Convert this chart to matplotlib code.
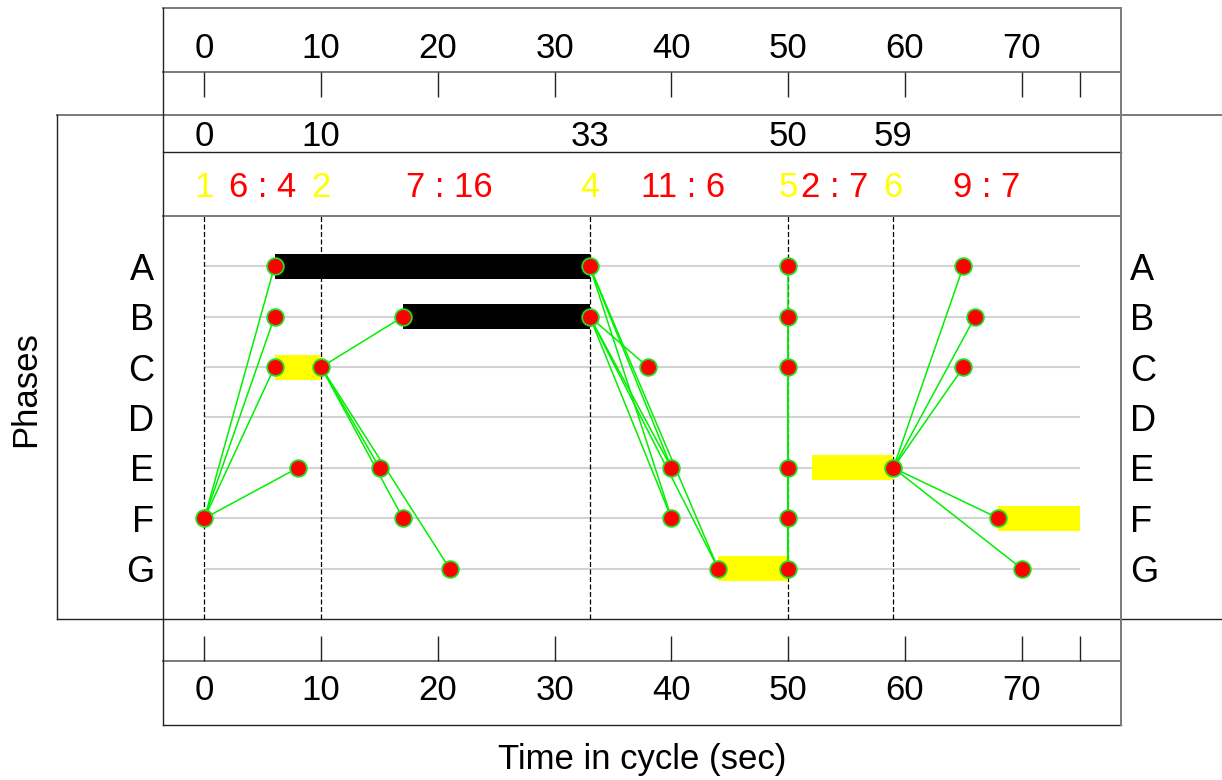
import matplotlib
matplotlib.use('Agg')
import matplotlib.pyplot as plt
from matplotlib.transforms import blended_transform_factory, ScaledTranslation

plt.rcParams['font.family'] = ['Liberation Sans', 'DejaVu Sans']

# ---- data ----
phases = ['A', 'B', 'C', 'D', 'E', 'F', 'G']
cycle_ticks = [0, 10, 20, 30, 40, 50, 60, 70]
cycle_length = 75
stage_starts = [0, 10, 33, 50, 59]
stage_numbers = ['1', '2', '4', '5', '6']
interstage_labels = ['6 : 4', '7 : 16', '11 : 6', '2 : 7', '9 : 7']
interstage_pos = [5, 21, 41, 54, 67]

point_phase = ['F', 'A', 'B', 'C', 'E',
               'C', 'B', 'E', 'F', 'G',
               'A', 'B', 'C', 'E', 'F', 'G',
               'A', 'B', 'C', 'E', 'F', 'G',
               'E', 'A', 'B', 'C', 'F', 'G']
point_time = [0, 6, 6, 6, 8,
              10, 17, 15, 17, 21,
              33, 33, 38, 40, 40, 44,
              50, 50, 50, 50, 50, 50,
              59, 65, 66, 65, 68, 70]

# links: (from phase, from time, to phase, to time)
links = [('F', 0, 'A', 6), ('F', 0, 'B', 6), ('F', 0, 'C', 6), ('F', 0, 'E', 8),
         ('C', 10, 'B', 17), ('C', 10, 'E', 15), ('C', 10, 'F', 17), ('C', 10, 'G', 21),
         ('A', 33, 'E', 40), ('A', 33, 'F', 40), ('A', 33, 'G', 44),
         ('B', 33, 'C', 38), ('B', 33, 'E', 40), ('B', 33, 'F', 40), ('B', 33, 'G', 44),
         ('G', 50, 'A', 50), ('G', 50, 'B', 50), ('G', 50, 'C', 50),
         ('G', 50, 'E', 50), ('G', 50, 'F', 50),
         ('E', 59, 'A', 65), ('E', 59, 'B', 66), ('E', 59, 'C', 65),
         ('E', 59, 'F', 68), ('E', 59, 'G', 70)]

black_phase = ['A', 'B']
black_start = [6, 17]
black_end = [33, 33]

yellow_phase = ['C', 'G', 'E', 'F']
yellow_start = [6, 44, 52, 68]
yellow_end = [10, 50, 59, 75]

# ---- layout (pixels of a 1222 x 780 figure) ----
W, H = 1222, 780
BOX_L, BOX_R = 163, 1121
FS = 25


def px_box(x0, y0, x1, y1):
    return [x0 / W, 1 - y1 / H, (x1 - x0) / W, (y1 - y0) / H]


def row(p):
    return 7 - phases.index(p)


fig = plt.figure(figsize=(W / 100, H / 100), dpi=100)

# frame lines
lax = fig.add_axes([0, 0, 1, 1], zorder=-1)
lax.set_xlim(0, W)
lax.set_ylim(H, 0)
lax.axis('off')
dark = dict(color='#222222', lw=1.0)
grey = dict(color='#7a7a7a', lw=1.4)
lax.plot([BOX_L, BOX_R], [8, 8], **grey)
lax.plot([BOX_L, BOX_R], [72, 72], **grey)
lax.plot([57, W], [115, 115], **grey)
lax.plot([BOX_L, BOX_R], [152, 152], **dark)
lax.plot([BOX_L, BOX_R], [216, 216], **grey)
lax.plot([57, W], [619, 619], **dark)
lax.plot([BOX_L, BOX_R], [661, 661], **grey)
lax.plot([BOX_L, BOX_R], [725, 725], **dark)
lax.plot([BOX_L, BOX_L], [8, 725], **dark)
lax.plot([BOX_R, BOX_R], [8, 725], **grey)
lax.plot([57, 57], [115, 619], **dark)

# main panel
ax = fig.add_axes(px_box(BOX_L, 216, BOX_R, 619))
ax.set_xlim(-3.55, 78.5)
ax.set_ylim(0, 8)
ax.axis('off')
ax.patch.set_alpha(0)

rows_y = [row(p) for p in phases]
ax.hlines(rows_y, 0, cycle_length, color='#d3d3d3', lw=1.5, zorder=1)
ax.vlines(stage_starts, 0, 8, color='black', lw=0.9,
          linestyles=(0, (4, 2)), zorder=2)

ax.barh([row(p) for p in black_phase],
        [e - s for s, e in zip(black_start, black_end)],
        left=black_start, height=0.5, color='black', zorder=3)
ax.barh([row(p) for p in yellow_phase],
        [e - s for s, e in zip(yellow_start, yellow_end)],
        left=yellow_start, height=0.5, color='#ffff00', zorder=3)

for p0, t0, p1, t1 in links:
    ax.plot([t0, t1], [row(p0), row(p1)], color='#00f000', lw=1.1, zorder=4)

ax.plot(point_time, [row(p) for p in point_phase], 'o', ms=12,
        mfc='red', mec='#22dd22', mew=1.3, zorder=5)

shift = ScaledTranslation(0, -13.5 / 100, fig.dpi_scale_trans)
left_tr = blended_transform_factory(fig.transFigure, ax.transData) + shift
for p, y in zip(phases, rows_y):
    ax.text(154 / W, y, p, transform=left_tr, ha='right', va='baseline',
            fontsize=FS + 1, clip_on=False)
    ax.text(1130 / W, y, p, transform=left_tr, ha='left', va='baseline',
            fontsize=FS + 1, clip_on=False)

# header: cycle ticks, stage start times, stage / interstage labels
hax = fig.add_axes(px_box(BOX_L, 8, BOX_R, 216), sharex=ax)
hax.set_ylim(216, 8)
hax.axis('off')
hax.patch.set_alpha(0)
hax.vlines(cycle_ticks + [cycle_length], 72, 97, color='#222222', lw=1.0)
for t in cycle_ticks:
    hax.text(t, 58, str(t), ha='center', va='baseline', fontsize=FS)
for t in stage_starts:
    hax.text(t, 146, str(t), ha='center', va='baseline', fontsize=FS)
for t, s in zip(stage_starts, stage_numbers):
    hax.text(t, 197, s, ha='center', va='baseline', fontsize=FS, color='#ffff00')
for t, s in zip(interstage_pos, interstage_labels):
    hax.text(t, 197, s, ha='center', va='baseline', fontsize=FS, color='red')

# footer axis
fax = fig.add_axes(px_box(BOX_L, 619, BOX_R, H), sharex=ax)
fax.set_ylim(H, 619)
fax.axis('off')
fax.patch.set_alpha(0)
fax.vlines(cycle_ticks + [cycle_length], 636, 661, color='#222222', lw=1.0)
for t in cycle_ticks:
    fax.text(t, 700, str(t), ha='center', va='baseline', fontsize=FS)

fig.text(642 / W, 1 - 769 / H, 'Time in cycle (sec)', ha='center',
         va='baseline', fontsize=FS)
fig.text(26 / W, 1 - 389 / H, 'Phases', rotation=90, ha='center',
         va='center', fontsize=FS)

fig.savefig('out.png', dpi=100)
